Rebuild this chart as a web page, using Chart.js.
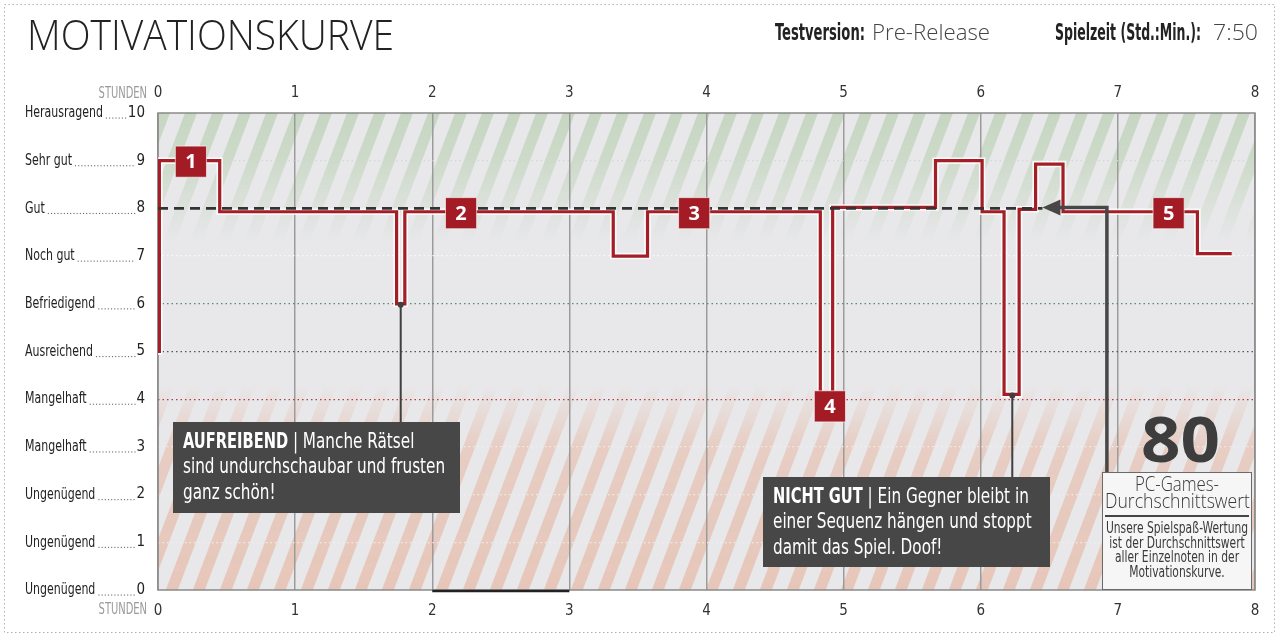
<!DOCTYPE html>
<html>
<head>
<meta charset="utf-8">
<script src="https://cdn.jsdelivr.net/npm/chart.js@4.4.0/dist/chart.umd.min.js"></script>
<style>
html,body{margin:0;padding:0;background:#fff;}
#wrap{position:relative;width:1280px;height:637px;}
</style>
</head>
<body>
<div id="wrap"><canvas id="motivation" width="1280" height="637"></canvas></div>
<script>
// fonts (no narrow face installed, so text gets squeezed horizontally)
const COND = "'Liberation Sans Narrow','DejaVu Sans Condensed','DejaVu Sans',sans-serif";
const SANS = "'Open Sans','Noto Sans',sans-serif";

// data
const hourTicks = [0, 1, 2, 3, 4, 5, 6, 7, 8];
const gradeNames = ['Ungenügend', 'Ungenügend', 'Ungenügend', 'Mangelhaft', 'Mangelhaft', 'Ausreichend',
  'Befriedigend', 'Noch gut', 'Gut', 'Sehr gut', 'Herausragend'];
const hours      = [0, 0.01, 0.45, 1.74, 1.80, 3.32, 3.57, 4.83, 4.92, 5.67, 6.01, 6.17, 6.28, 6.40, 6.60, 7.58, 7.83];
const motivation = [5, 9,    7.93, 6,    7.93, 7,    7.93, 4,    8.02, 9,    7.93, 4.1,  7.98, 8.93, 7.93, 7.05, 7.05];
const markerHours  = [0.24, 2.21, 3.91, 4.90, 7.37];
const markerValues = [8.98, 7.9, 7.9, 3.85, 7.9];
const markerLabels = ['1', '2', '3', '4', '5'];
const averageValue = 8;
const averageUntil = 6.45;
const arrowFrom = 6.92;
const averageScore = '80';
const testVersion = 'Pre-Release';
const playTime = '7:50';
const notes = [
  { hour: 1.77, value: 6, head: 'AUFREIBEND', lines: ['Manche Rätsel', 'sind undurchschaubar und frusten', 'ganz schön!'] },
  { hour: 6.23, value: 4.1, head: 'NICHT GUT', lines: ['Ein Gegner bleibt in', 'einer Sequenz hängen und stoppt', 'damit das Spiel. Doof!'] }
];
const scoreText = ['PC-Games-', 'Durchschnittswert'];
const scoreInfo = ['Unsere Spielspaß-Wertung', 'ist der Durchschnittswert', 'aller Einzelnoten in der', 'Motivationskurve.'];

const gridColors = ['rgba(0,0,0,0)', '#f2eeee', '#f2eeee', '#f2eeee', '#b8393b', '#555555',
  '#4f8f70', '#fafafa', 'rgba(0,0,0,0)', '#d2d8d2', 'rgba(0,0,0,0)'];

function pts(xs, ys) { return xs.map((x, i) => ({ x: x, y: ys[i] })); }

function fitText(ctx, text, x, y, width) {
  const w = ctx.measureText(text).width;
  ctx.save();
  ctx.translate(x, y);
  ctx.scale(width / w, 1);
  ctx.fillText(text, 0, 0);
  ctx.restore();
}

// draws squeezed text, returns its drawn width
function condText(ctx, text, x, y, align, sq) {
  const w = ctx.measureText(text).width * sq;
  let left = x;
  if (align === 'right') left = x - w;
  if (align === 'center') left = x - w / 2;
  ctx.save();
  ctx.textAlign = 'left';
  ctx.translate(left, y);
  ctx.scale(sq, 1);
  ctx.fillText(text, 0, 0);
  ctx.restore();
  return w;
}

function stripes(a, color, stops) {
  const w = Math.round(a.right - a.left), h = Math.round(a.bottom - a.top);
  const c = document.createElement('canvas');
  c.width = w; c.height = h;
  const g = c.getContext('2d');
  g.fillStyle = color;
  const period = 27, band = 12, slant = 0.38 * h;
  for (let x0 = -slant - period; x0 < w + period; x0 += period) {
    g.beginPath();
    g.moveTo(x0, h); g.lineTo(x0 + band, h);
    g.lineTo(x0 + band + slant, 0); g.lineTo(x0 + slant, 0);
    g.closePath(); g.fill();
  }
  g.globalCompositeOperation = 'destination-in';
  const gr = g.createLinearGradient(0, 0, 0, h);
  stops.forEach(s => gr.addColorStop(Math.min(1, Math.max(0, s[0])), s[1]));
  g.fillStyle = gr;
  g.fillRect(0, 0, w, h);
  return c;
}

const decor = {
  id: 'decor',
  beforeDraw(chart) {
    const ctx = chart.ctx, a = chart.chartArea, y = chart.scales.y;
    const h = a.bottom - a.top;
    const f = v => (y.getPixelForValue(v) - a.top) / h;
    ctx.save();
    ctx.fillStyle = '#fff';
    ctx.fillRect(0, 0, chart.width, chart.height);
    ctx.fillStyle = '#e8e8ea';
    ctx.fillRect(a.left, a.top, a.right - a.left, h);
    ctx.drawImage(stripes(a, '#c6d6c1', [[0, 'rgba(0,0,0,1)'], [f(9), 'rgba(0,0,0,0.8)'], [f(7.3), 'rgba(0,0,0,0)']]), a.left, a.top);
    ctx.drawImage(stripes(a, '#e6c6b9', [[f(4.3), 'rgba(0,0,0,0)'], [f(3), 'rgba(0,0,0,0.8)'], [1, 'rgba(0,0,0,1)']]), a.left, a.top);
    ctx.restore();
  },
  beforeDatasetsDraw(chart) {
    const ctx = chart.ctx, a = chart.chartArea, x = chart.scales.x;
    ctx.save();
    ctx.strokeStyle = '#8a8a8a';
    ctx.lineWidth = 1.5;
    ctx.strokeRect(a.left, a.top, a.right - a.left, a.bottom - a.top);
    ctx.strokeStyle = '#222';
    ctx.lineWidth = 2.5;
    ctx.beginPath();
    ctx.moveTo(x.getPixelForValue(2), a.bottom + 1);
    ctx.lineTo(x.getPixelForValue(3), a.bottom + 1);
    ctx.stroke();
    ctx.restore();
  },
  afterDatasetsDraw(chart) {
    const ctx = chart.ctx, x = chart.scales.x, y = chart.scales.y;
    ctx.save();

    // marker numbers
    const meta = chart.getDatasetMeta(3);
    ctx.fillStyle = '#fff';
    ctx.font = 'bold 20px ' + SANS;
    ctx.textAlign = 'center';
    ctx.textBaseline = 'middle';
    meta.data.forEach((p, i) => ctx.fillText(markerLabels[i], p.x, p.y + 1));

    // grade names with dot leaders
    ctx.font = '16.5px ' + COND;
    ctx.fillStyle = '#222';
    for (let v = 0; v <= 10; v++) {
      const py = y.getPixelForValue(v);
      const end = 25 + condText(ctx, gradeNames[v], 25, py, 'left', 0.74) + 3;
      ctx.font = '15px ' + COND;
      const numLeft = 145 - ctx.measureText(String(v)).width - 2;
      ctx.font = '16.5px ' + COND;
      ctx.fillStyle = '#666';
      for (let dx = end; dx < numLeft; dx += 3.2) ctx.fillRect(dx, py + 4.5, 1.1, 1.1);
      ctx.fillStyle = '#222';
    }

    // STUNDEN labels
    ctx.font = '16px ' + COND;
    ctx.fillStyle = '#9a9a9a';
    condText(ctx, 'STUNDEN', 147, 94, 'right', 0.69);
    condText(ctx, 'STUNDEN', 147, 610, 'right', 0.69);

    // average arrow
    const ay = y.getPixelForValue(averageValue) - 1;
    const ax0 = x.getPixelForValue(averageUntil), ax1 = x.getPixelForValue(arrowFrom);
    ctx.strokeStyle = '#474747';
    ctx.fillStyle = '#474747';
    ctx.lineWidth = 3.5;
    ctx.beginPath();
    ctx.moveTo(ax0 + 12, ay); ctx.lineTo(ax1, ay); ctx.lineTo(ax1, 472);
    ctx.stroke();
    ctx.beginPath();
    ctx.moveTo(ax0, ay); ctx.lineTo(ax0 + 18, ay - 8); ctx.lineTo(ax0 + 18, ay + 8);
    ctx.closePath(); ctx.fill();

    // note connectors and boxes
    const boxes = [[173, 422, 287, 91], [763, 477, 287, 90]];
    notes.forEach((n, i) => {
      const b = boxes[i];
      const px = x.getPixelForValue(n.hour), py = y.getPixelForValue(n.value);
      ctx.strokeStyle = '#3f3f3f';
      ctx.lineWidth = 2;
      ctx.beginPath(); ctx.moveTo(px, py); ctx.lineTo(px, b[1]); ctx.stroke();
      ctx.fillStyle = '#3f3f3f';
      ctx.beginPath(); ctx.arc(px, py + 1, 3, 0, Math.PI * 2); ctx.fill();
      ctx.fillStyle = '#474747';
      ctx.fillRect(b[0], b[1], b[2], b[3]);
      ctx.fillStyle = '#fff';
      ctx.textBaseline = 'middle';
      const lx = b[0] + 10;
      let ly = b[1] + 20;
      ctx.font = 'bold 22px ' + COND;
      const w = condText(ctx, n.head, lx, ly, 'left', 0.74);
      ctx.font = '22px ' + COND;
      condText(ctx, ' | ' + n.lines[0], lx + w, ly, 'left', 0.77);
      for (let k = 1; k < n.lines.length; k++) {
        ly += 25.5;
        condText(ctx, n.lines[k], lx, ly, 'left', 0.77);
      }
    });

    // score box
    ctx.fillStyle = '#3d3d3d';
    ctx.font = 'bold 62px ' + SANS;
    ctx.textBaseline = 'alphabetic';
    ctx.textAlign = 'left';
    fitText(ctx, averageScore, 1141, 462, 79);
    ctx.fillStyle = '#f6f6f6';
    ctx.fillRect(1102, 472, 150, 118);
    ctx.strokeStyle = '#6a6a6a';
    ctx.lineWidth = 1;
    ctx.strokeRect(1102.5, 472.5, 149, 117);
    ctx.fillStyle = '#3a3a3a';
    ctx.textBaseline = 'middle';
    ctx.font = '300 21px ' + SANS;
    condText(ctx, scoreText[0], 1177, 485, 'center', 0.8);
    fitText(ctx, scoreText[1], 1105, 502, 145);
    ctx.strokeStyle = '#444';
    ctx.lineWidth = 2;
    ctx.beginPath(); ctx.moveTo(1105, 516); ctx.lineTo(1249, 516); ctx.stroke();
    ctx.font = '15.5px ' + COND;
    scoreInfo.forEach((t, i) => condText(ctx, t, 1177, 529 + i * 14.5, 'center', 0.77));

    ctx.restore();
  },
  afterDraw(chart) {
    const ctx = chart.ctx;
    ctx.save();
    // outer dotted frame
    ctx.strokeStyle = '#b0b0b0';
    ctx.lineWidth = 1;
    ctx.setLineDash([1.5, 2.5]);
    ctx.strokeRect(4.5, 4.5, 1270, 628);
    ctx.setLineDash([]);

    // header
    ctx.fillStyle = '#222';
    ctx.textBaseline = 'alphabetic';
    ctx.textAlign = 'left';
    ctx.font = '300 42px ' + SANS;
    fitText(ctx, 'MOTIVATIONSKURVE', 27, 50, 367);
    ctx.font = 'bold 23px ' + COND;
    fitText(ctx, 'Testversion:', 775, 40, 90);
    fitText(ctx, 'Spielzeit (Std.:Min.):', 1055, 40, 146);
    ctx.fillStyle = '#444';
    ctx.font = '300 22px ' + SANS;
    fitText(ctx, testVersion, 872, 40, 118);
    fitText(ctx, playTime, 1213, 40, 45);
    ctx.restore();
  }
};

const tickFont = { family: COND, size: 15 };

new Chart(document.getElementById('motivation'), {
  type: 'line',
  data: {
    datasets: [
      { data: pts(hours, motivation), borderColor: 'rgba(255,255,255,0.85)', borderWidth: 6.5,
        stepped: true, pointRadius: 0, order: 4 },
      { data: pts(hours, motivation), borderColor: '#a41e27', borderWidth: 3.2,
        stepped: true, pointRadius: 0, order: 3 },
      { data: pts([0, averageUntil], [averageValue, averageValue]), borderColor: '#333',
        borderWidth: 2.6, borderDash: [10, 6], pointRadius: 0, order: 2 },
      { data: pts(markerHours, markerValues), showLine: false, pointStyle: 'rect', pointRadius: 22,
        pointBackgroundColor: '#a31c25', pointBorderColor: 'rgba(255,255,255,0.6)', pointBorderWidth: 1, order: 1 }
    ]
  },
  options: {
    responsive: false,
    animation: false,
    layout: { padding: { left: 0, top: 0, right: 25, bottom: 0 } },
    plugins: { legend: { display: false }, tooltip: { enabled: false } },
    scales: {
      x: {
        type: 'linear', position: 'top', min: 0, max: 8,
        afterFit(s) { s.height = 113; },
        afterBuildTicks(s) { s.ticks = hourTicks.map(v => ({ value: v })); },
        ticks: { padding: 11, color: '#333', font: tickFont, maxRotation: 0, autoSkip: false },
        grid: { color: '#9b9b9b', lineWidth: 1.5, drawTicks: false },
        border: { display: false }
      },
      x2: {
        type: 'linear', position: 'bottom', min: 0, max: 8,
        afterFit(s) { s.height = 47; },
        afterBuildTicks(s) { s.ticks = hourTicks.map(v => ({ value: v })); },
        ticks: { padding: 12, color: '#333', font: tickFont, maxRotation: 0, autoSkip: false },
        grid: { display: false, drawTicks: false },
        border: { display: false }
      },
      y: {
        min: 0, max: 10,
        afterFit(s) { s.width = 158; },
        ticks: { stepSize: 1, padding: 13, color: '#222', font: tickFont },
        grid: { color: c => gridColors[c.tick ? c.tick.value : 0] || 'rgba(0,0,0,0)', lineWidth: 1.3, drawTicks: false },
        border: { display: false, dash: [1.5, 3] }
      }
    }
  },
  plugins: [decor]
});
</script>
</body>
</html>
